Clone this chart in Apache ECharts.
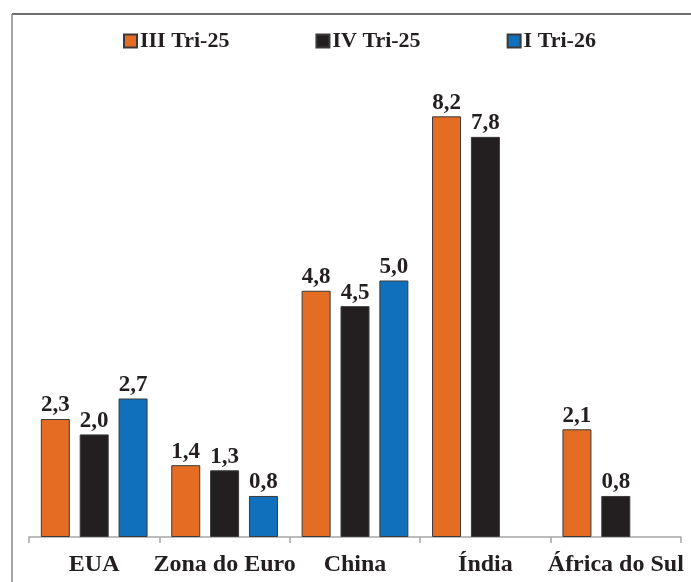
<!DOCTYPE html>
<html>
<head>
<meta charset="utf-8">
<style>
  html, body { margin: 0; padding: 0; background: #ffffff; }
  #chart { width: 691px; height: 582px; }
</style>
<script src="https://cdn.jsdelivr.net/npm/echarts@6/dist/echarts.min.js"></script>
</head>
<body>
<div id="chart"></div>
<script>
// Crescimento do PIB por região (%)
const categories = ['EUA', 'Zona do Euro', 'China', 'Índia', 'África do Sul'];
const seriesNames = ['III Tri-25', 'IV Tri-25', 'I Tri-26'];
const tri3_25 = [2.3, 1.4, 4.8, 8.2, 2.1];
const tri4_25 = [2.0, 1.3, 4.5, 7.8, 0.8];
const tri1_26 = [2.7, 0.8, 5.0, null, null];
const colors = ['#e46c23', '#231f20', '#1070bb'];

const FONT = '"Liberation Serif", "Times New Roman", serif';
const TEXT = '#231f20';

const chart = echarts.init(document.getElementById('chart'), null, { renderer: 'canvas' });

function barSeries(name, data, color) {
  return {
    name: name,
    type: 'bar',
    data: data,
    barWidth: 29,
    barGap: '34%',
    itemStyle: { color: color, borderColor: '#3a3a3a', borderWidth: 1 },
    label: {
      show: true,
      position: 'top',
      distance: 2,
      fontFamily: FONT,
      fontWeight: 'bold',
      fontSize: 23,
      color: TEXT,
      formatter: p => p.value == null ? '' : p.value.toFixed(1).replace('.', ',')
    }
  };
}

chart.setOption({
  animation: false,
  backgroundColor: '#ffffff',
  legend: {
    top: 30,
    left: 123,
    padding: 0,
    itemGap: 86,
    itemWidth: 13,
    itemHeight: 13,
    icon: 'rect',
    textStyle: { fontFamily: FONT, fontWeight: 'bold', fontSize: 22, color: TEXT, padding: [0, 0, 0, -2] },
    data: seriesNames
  },
  grid: { left: 29, right: 10, top: 24, bottom: 45, containLabel: false },
  xAxis: {
    type: 'category',
    data: categories,
    boundaryGap: true,
    axisLine: { lineStyle: { color: '#a6a6a6', width: 1.5 } },
    axisTick: { show: true, length: 6, lineStyle: { color: '#a6a6a6', width: 1.5 } },
    axisLabel: { margin: 16, fontFamily: FONT, fontWeight: 'bold', fontSize: 24, color: TEXT, interval: 0 }
  },
  yAxis: {
    type: 'value',
    min: 0,
    max: 10,
    show: false,
    splitLine: { show: false }
  },
  series: [
    barSeries(seriesNames[0], tri3_25, colors[0]),
    barSeries(seriesNames[1], tri4_25, colors[1]),
    barSeries(seriesNames[2], tri1_26, colors[2])
  ],
  graphic: [
    { type: 'line', shape: { x1: 12, y1: 14, x2: 691, y2: 14 }, style: { stroke: '#404040', lineWidth: 1.5 } },
    { type: 'line', shape: { x1: 12, y1: 14, x2: 12, y2: 582 }, style: { stroke: '#8a8a8a', lineWidth: 1.5 } }
  ]
});
</script>
</body>
</html>
